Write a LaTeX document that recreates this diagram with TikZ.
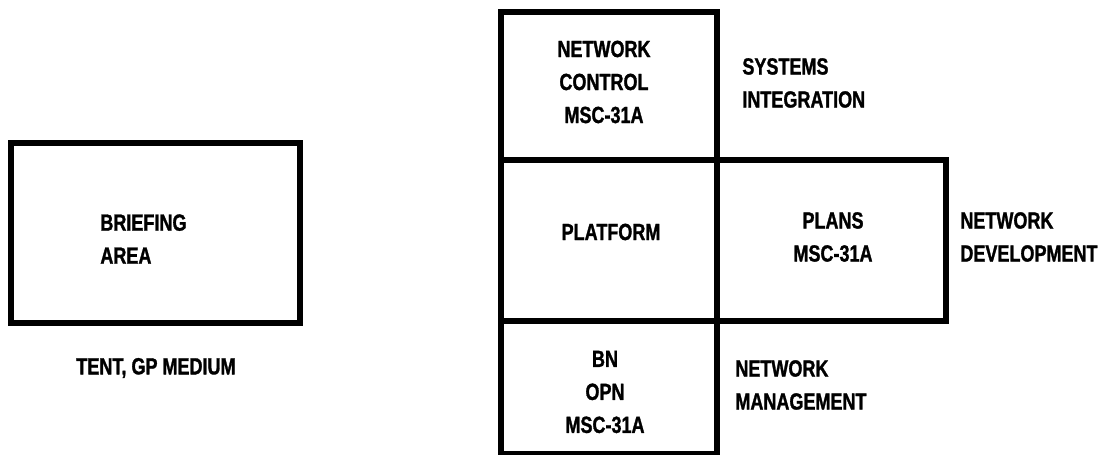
\documentclass[tikz,border=0pt]{standalone}
\usepackage{fontspec}
\setmainfont{Liberation Sans}[FakeStretch=0.77,BoldFeatures={FakeBold=1.2}]
\begin{document}
\begin{tikzpicture}[x=0.5pt,y=-0.5pt,
  wall/.style={draw=black,line width=2.8pt,line join=miter},
  lbl/.style={inner sep=0pt,align=center,font=\bfseries\fontsize{11.7}{16.5}\selectfont},
  side/.style={lbl,align=left,anchor=west}]
\useasboundingbox (0,0) rectangle (1105,455);

% tent, drawn on its own at the left
\draw[wall] (11,143) rectangle (300,323);
\node[side] (brief) at (100,239) {BRIEFING\\AREA};
\node[lbl] (tent) at (156,368) {TENT, GP MEDIUM};

% shelter cluster
\draw[wall] (501,12) rectangle (717,160);
\draw[wall] (501,160) rectangle (717,321);
\draw[wall] (717,160) rectangle (946,321);
\draw[wall] (501,321) rectangle (717,454);

\node[lbl] (nc) at (604,82) {NETWORK\\CONTROL\\MSC-31A};
\node[lbl] (plat) at (611,232) {PLATFORM};
\node[lbl] (plans) at (833,237) {PLANS\\MSC-31A};
\node[lbl] (bn) at (605,392) {BN\\OPN\\MSC-31A};

\node[side] (sysint) at (742,83) {SYSTEMS\\INTEGRATION};
\node[side] (netdev) at (960,237) {NETWORK\\DEVELOPMENT};
\node[side] (netmgt) at (735,385) {NETWORK\\MANAGEMENT};
\end{tikzpicture}
\end{document}
